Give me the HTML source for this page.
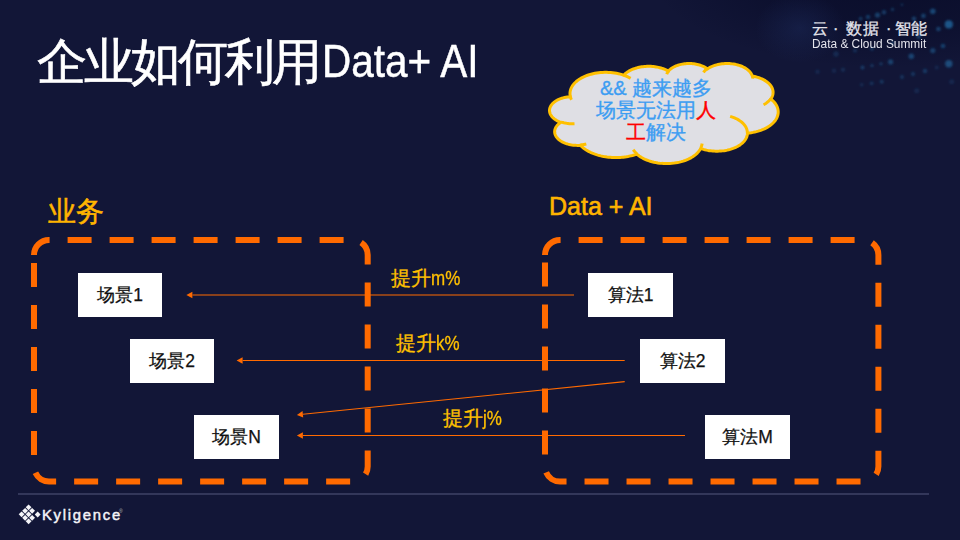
<!DOCTYPE html>
<html><head><meta charset="utf-8"><style>
html,body{margin:0;padding:0;}
body{width:960px;height:540px;overflow:hidden;background:#121637;position:relative;font-family:"Liberation Sans",sans-serif;}
.abs{position:absolute;white-space:nowrap;}
svg{position:absolute;left:0;top:0;}
.box{position:absolute;background:#fff;color:#111;font-size:17.5px;text-align:center;-webkit-text-stroke:0.25px #111;}
.title{left:38px;top:28px;font-size:48px;color:#fff;line-height:64px;}
.gold{color:#ffc000;-webkit-text-stroke:0.3px #ffc000;}
.lg{top:18px;font-size:16px;line-height:22px;color:#e4e4ec;-webkit-text-stroke:0.3px #e4e4ec;}
.cjk{-webkit-text-stroke:0.6px #fff;}
</style></head><body>
<svg width="960" height="540" viewBox="0 0 960 540">
  <defs>
    <radialGradient id="dk" cx="0.62" cy="0.2" r="0.6">
      <stop offset="0" stop-color="#070a26" stop-opacity="0.75"/>
      <stop offset="0.6" stop-color="#070a26" stop-opacity="0.45"/>
      <stop offset="1" stop-color="#070a26" stop-opacity="0"/>
    </radialGradient>
    <radialGradient id="gl" cx="0.5" cy="0.5" r="0.5">
      <stop offset="0" stop-color="#22346a" stop-opacity="0.35"/>
      <stop offset="1" stop-color="#22346a" stop-opacity="0"/>
    </radialGradient>
    <filter id="blur1" x="-50%" y="-50%" width="200%" height="200%"><feGaussianBlur stdDeviation="1.2"/></filter>
  </defs>
  <rect x="640" y="-60" width="400" height="160" fill="url(#dk)"/>
  <ellipse cx="800" cy="28" rx="45" ry="35" fill="url(#gl)"/>
  <g fill="#1f5d92" filter="url(#blur1)">
    <circle cx="817.5" cy="71.7" r="2.2" opacity="0.25"/>
    <circle cx="834" cy="70.8" r="2.2" opacity="0.25"/>
    <circle cx="843" cy="69.7" r="2" opacity="0.35"/>
    <circle cx="861.7" cy="84.7" r="1.8" opacity="0.3"/>
    <circle cx="871.7" cy="83.3" r="1.9" opacity="0.4"/>
    <circle cx="881.7" cy="81.7" r="2" opacity="0.45"/>
    <circle cx="916.7" cy="90.8" r="2.5" opacity="0.25"/>
    <circle cx="951.7" cy="81.7" r="2.5" opacity="0.25"/>
    <circle cx="936.7" cy="67.5" r="2" opacity="0.25"/>
    <circle cx="948.8" cy="24.4" r="4.1" opacity="0.9"/>
    <circle cx="932.8" cy="11.3" r="2.8" opacity="0.7"/>
    <circle cx="923.4" cy="15.9" r="2.3" opacity="0.6"/>
    <circle cx="938.4" cy="29" r="2.3" opacity="0.6"/>
    <circle cx="943" cy="46" r="2.3" opacity="0.6"/>
    <circle cx="948.8" cy="63.8" r="3.7" opacity="0.75"/>
    <circle cx="932.8" cy="50.6" r="2.6" opacity="0.6"/>
    <circle cx="911.3" cy="56.3" r="2.8" opacity="0.65"/>
    <circle cx="890.6" cy="61.9" r="2.6" opacity="0.6"/>
    <circle cx="881" cy="63.8" r="1.6" opacity="0.5"/>
    <circle cx="872" cy="65.6" r="1.6" opacity="0.5"/>
    <circle cx="862.5" cy="67.5" r="1.9" opacity="0.55"/>
    <circle cx="877.5" cy="15" r="2.6" opacity="0.6"/>
    <circle cx="884" cy="12.2" r="2.2" opacity="0.55"/>
    <circle cx="892.5" cy="9.4" r="1.6" opacity="0.5"/>
    <circle cx="868" cy="16.9" r="2.2" opacity="0.55"/>
    <circle cx="860.6" cy="18.75" r="1.9" opacity="0.5"/>
    <circle cx="914" cy="18.75" r="2.2" opacity="0.6"/>
    <circle cx="902" cy="4.7" r="1.2" opacity="0.45"/>
    <circle cx="918.75" cy="36.6" r="2.3" opacity="0.6"/>
    <circle cx="925" cy="71" r="2.2" opacity="0.5"/>
    <circle cx="913" cy="74" r="1.9" opacity="0.5"/>
    <circle cx="902" cy="77" r="1.9" opacity="0.45"/>
    <circle cx="836" cy="54" r="2.8" opacity="0.3"/>
    <circle cx="855" cy="50.6" r="1.9" opacity="0.4"/>
    <circle cx="872" cy="48.75" r="1.9" opacity="0.45"/>
    <circle cx="892.5" cy="43" r="1.9" opacity="0.5"/>
  </g>
  <rect x="18" y="493" width="911" height="2" fill="#33375a"/>
  <line x1="574" y1="295.0" x2="192.40" y2="295.00" stroke="#ff6a00" stroke-width="1.1"/><path d="M186.40 295.00 L192.40 291.80 L192.40 298.20 Z" fill="#ff6a00"/><line x1="624.7" y1="360.5" x2="242.60" y2="360.50" stroke="#ff6a00" stroke-width="1.1"/><path d="M236.60 360.50 L242.60 357.30 L242.60 363.70 Z" fill="#ff6a00"/><line x1="624.7" y1="381.6" x2="302.87" y2="414.29" stroke="#ff6a00" stroke-width="1.1"/><path d="M296.90 414.90 L302.55 411.11 L303.19 417.48 Z" fill="#ff6a00"/><line x1="685" y1="435.5" x2="302.90" y2="435.50" stroke="#ff6a00" stroke-width="1.1"/><path d="M296.90 435.50 L302.90 432.30 L302.90 438.70 Z" fill="#ff6a00"/>
  <path d="M34 255 A15 15 0 0 1 49 240 L352.7 240 A15 15 0 0 1 367.7 255 L367.7 466.5 A15 15 0 0 1 352.7 481.5 L49 481.5 A15 15 0 0 1 34 466.5 Z" fill="none" stroke="#ff6a00" stroke-width="6" stroke-dasharray="24 18"/>
  <path d="M545 255 A15 15 0 0 1 560 240 L863.4 240 A15 15 0 0 1 878.4 255 L878.4 466.5 A15 15 0 0 1 863.4 481.5 L560 481.5 A15 15 0 0 1 545 466.5 Z" fill="none" stroke="#ff6a00" stroke-width="6" stroke-dasharray="24 18"/>
  <path d="M570.32 96.46 L570.11 95.28 L570.00 94.09 L570.01 92.91 L570.13 91.72 L570.36 90.54 L570.71 89.37 L571.16 88.21 L571.72 87.07 L572.38 85.95 L573.15 84.85 L574.02 83.78 L574.99 82.74 L576.06 81.73 L577.22 80.77 L578.47 79.84 L579.80 78.95 L581.21 78.11 L582.70 77.32 L584.26 76.58 L585.89 75.90 L587.58 75.26 L589.33 74.69 L591.13 74.18 L592.97 73.72 L594.86 73.33 L596.77 73.00 L598.72 72.73 L600.69 72.53 L602.67 72.40 L604.66 72.33 L606.66 72.33 L608.65 72.40 L610.63 72.53 L612.60 72.72 L614.55 72.99 L616.47 73.31 L618.35 73.70 L620.20 74.16 L622.00 74.67 L623.75 75.24 L624.39 74.56 L625.08 73.90 L625.83 73.25 L626.62 72.63 L627.46 72.03 L628.35 71.46 L629.28 70.91 L630.26 70.38 L631.27 69.89 L632.32 69.42 L633.41 68.98 L634.53 68.57 L635.68 68.20 L636.85 67.85 L638.06 67.54 L639.28 67.27 L640.53 67.02 L641.79 66.82 L643.07 66.64 L644.36 66.51 L645.66 66.41 L646.97 66.34 L648.28 66.31 L649.59 66.32 L650.90 66.37 L652.20 66.45 L653.50 66.56 L654.79 66.71 L656.06 66.90 L657.31 67.13 L658.55 67.38 L659.77 67.68 L660.96 68.00 L662.13 68.36 L663.26 68.75 L664.37 69.17 L665.44 69.62 L666.47 70.10 L667.47 70.61 L668.43 71.14 L668.97 70.53 L669.57 69.93 L670.22 69.35 L670.92 68.79 L671.67 68.25 L672.46 67.74 L673.29 67.25 L674.16 66.79 L675.08 66.35 L676.02 65.94 L677.00 65.56 L678.02 65.21 L679.06 64.89 L680.12 64.60 L681.21 64.35 L682.32 64.13 L683.45 63.94 L684.59 63.79 L685.74 63.67 L686.90 63.59 L688.07 63.54 L689.24 63.53 L690.41 63.55 L691.57 63.61 L692.73 63.70 L693.88 63.83 L695.02 63.99 L696.14 64.19 L697.24 64.42 L698.33 64.68 L699.39 64.98 L700.42 65.30 L701.42 65.66 L702.40 66.05 L703.33 66.47 L704.23 66.91 L705.10 67.38 L705.92 67.88 L706.70 68.40 L707.43 68.94 L708.40 68.30 L709.43 67.69 L710.51 67.12 L711.65 66.58 L712.83 66.09 L714.07 65.63 L715.34 65.22 L716.65 64.85 L717.99 64.52 L719.36 64.24 L720.76 64.01 L722.18 63.82 L723.61 63.68 L725.05 63.59 L726.50 63.55 L727.95 63.56 L729.40 63.61 L730.84 63.72 L732.27 63.87 L733.68 64.07 L735.07 64.32 L736.43 64.61 L737.77 64.95 L739.07 65.33 L740.33 65.76 L741.55 66.23 L742.72 66.73 L743.84 67.28 L744.91 67.86 L745.92 68.48 L746.87 69.13 L747.76 69.82 L748.58 70.53 L749.34 71.26 L750.02 72.03 L750.63 72.81 L751.16 73.61 L751.61 74.43 L751.99 75.26 L752.29 76.11 L753.45 76.31 L754.59 76.54 L755.71 76.81 L756.81 77.10 L757.89 77.42 L758.95 77.76 L759.98 78.13 L760.98 78.53 L761.96 78.96 L762.90 79.40 L763.81 79.87 L764.69 80.37 L765.53 80.89 L766.33 81.42 L767.09 81.98 L767.81 82.56 L768.49 83.15 L769.13 83.76 L769.72 84.39 L770.27 85.03 L770.77 85.68 L771.23 86.35 L771.63 87.03 L771.99 87.72 L772.29 88.41 L772.55 89.12 L772.76 89.82 L772.91 90.54 L773.02 91.26 L773.07 91.97 L773.07 92.69 L773.02 93.41 L772.92 94.13 L772.77 94.84 L772.56 95.55 L772.31 96.26 L772.00 96.95 L771.65 97.64 L771.25 98.32 L770.80 98.99 L771.89 99.89 L772.91 100.82 L773.85 101.78 L774.69 102.77 L775.46 103.78 L776.13 104.82 L776.71 105.88 L777.20 106.95 L777.59 108.04 L777.89 109.13 L778.09 110.24 L778.19 111.35 L778.20 112.46 L778.11 113.57 L777.92 114.68 L777.64 115.78 L777.26 116.87 L776.79 117.94 L776.22 119.00 L775.56 120.04 L774.81 121.06 L773.97 122.05 L773.05 123.02 L772.05 123.95 L770.96 124.86 L769.80 125.73 L768.56 126.56 L767.25 127.35 L765.87 128.10 L764.43 128.81 L762.93 129.47 L761.38 130.08 L759.77 130.65 L758.12 131.16 L756.42 131.62 L754.68 132.03 L752.92 132.39 L751.12 132.69 L749.30 132.93 L747.46 133.11 L747.40 134.08 L747.26 135.04 L747.03 136.00 L746.72 136.94 L746.33 137.88 L745.85 138.80 L745.29 139.71 L744.65 140.60 L743.93 141.46 L743.13 142.30 L742.27 143.12 L741.33 143.91 L740.32 144.66 L739.25 145.39 L738.11 146.07 L736.91 146.73 L735.66 147.34 L734.35 147.91 L733.00 148.44 L731.60 148.93 L730.16 149.37 L728.68 149.77 L727.17 150.12 L725.63 150.42 L724.06 150.67 L722.48 150.87 L720.87 151.02 L719.26 151.12 L717.64 151.17 L716.02 151.17 L714.40 151.12 L712.79 151.02 L711.19 150.86 L709.60 150.66 L708.04 150.40 L706.50 150.10 L704.99 149.75 L703.51 149.35 L702.07 148.91 L700.68 148.42 L700.04 149.56 L699.29 150.68 L698.44 151.77 L697.49 152.83 L696.44 153.86 L695.30 154.85 L694.06 155.80 L692.74 156.71 L691.33 157.57 L689.84 158.38 L688.28 159.14 L686.65 159.85 L684.95 160.50 L683.20 161.09 L681.39 161.62 L679.53 162.10 L677.64 162.50 L675.71 162.85 L673.75 163.12 L671.76 163.33 L669.76 163.48 L667.75 163.55 L665.73 163.56 L663.72 163.50 L661.72 163.37 L659.73 163.18 L657.76 162.92 L655.82 162.59 L653.92 162.19 L652.05 161.74 L650.23 161.22 L648.47 160.64 L646.76 160.00 L645.11 159.31 L643.53 158.56 L642.03 157.76 L640.60 156.91 L639.26 156.01 L638.00 155.07 L636.83 154.09 L635.42 154.57 L633.99 155.02 L632.52 155.44 L631.02 155.82 L629.50 156.16 L627.96 156.47 L626.40 156.74 L624.83 156.97 L623.24 157.17 L621.63 157.33 L620.02 157.45 L618.40 157.53 L616.78 157.57 L615.16 157.57 L613.53 157.54 L611.92 157.47 L610.30 157.35 L608.70 157.20 L607.10 157.02 L605.52 156.79 L603.96 156.53 L602.42 156.23 L600.89 155.89 L599.39 155.52 L597.92 155.11 L596.47 154.67 L595.06 154.19 L593.68 153.68 L592.33 153.14 L591.02 152.56 L589.75 151.96 L588.52 151.32 L587.34 150.66 L586.19 149.97 L585.10 149.25 L584.06 148.51 L583.06 147.74 L582.12 146.95 L581.23 146.14 L580.39 145.31 L578.99 145.38 L577.58 145.40 L576.18 145.37 L574.78 145.29 L573.39 145.16 L572.02 144.98 L570.67 144.75 L569.34 144.47 L568.05 144.14 L566.79 143.77 L565.57 143.35 L564.40 142.89 L563.28 142.39 L562.21 141.84 L561.20 141.26 L560.25 140.65 L559.36 140.00 L558.54 139.32 L557.80 138.61 L557.13 137.88 L556.53 137.12 L556.02 136.34 L555.58 135.55 L555.23 134.74 L554.96 133.92 L554.77 133.09 L554.67 132.26 L554.66 131.42 L554.73 130.59 L554.89 129.76 L555.13 128.93 L555.45 128.12 L555.86 127.32 L556.35 126.54 L556.92 125.77 L557.57 125.03 L558.29 124.32 L559.08 123.63 L559.95 122.97 L560.87 122.34 L559.65 121.88 L558.49 121.38 L557.37 120.83 L556.32 120.24 L555.32 119.61 L554.40 118.95 L553.55 118.26 L552.77 117.53 L552.07 116.78 L551.45 116.00 L550.91 115.20 L550.46 114.38 L550.09 113.54 L549.81 112.70 L549.63 111.84 L549.53 110.98 L549.52 110.12 L549.60 109.25 L549.77 108.40 L550.03 107.55 L550.38 106.71 L550.82 105.89 L551.34 105.08 L551.94 104.30 L552.63 103.54 L553.39 102.81 L554.23 102.11 L555.14 101.44 L556.12 100.81 L557.16 100.21 L558.27 99.65 L559.43 99.14 L560.64 98.67 L561.89 98.25 L563.19 97.88 L564.53 97.55 L565.89 97.28 L567.29 97.06 L568.70 96.89 L570.13 96.78 Z" fill="#dfdfe4" stroke="#ffc000" stroke-width="3" stroke-linejoin="round"/>
  <path d="M574.51 123.79 L573.82 123.82 L573.12 123.83 L572.42 123.84 L571.72 123.82 L571.03 123.80 L570.33 123.76 L569.64 123.71 L568.95 123.65 L568.26 123.57 L567.58 123.49 L566.90 123.39 L566.23 123.27 L565.56 123.15 L564.90 123.01 L564.25 122.87 L563.61 122.71 L562.97 122.53 L562.34 122.35 L561.73 122.16 L561.12 121.95 M586.33 143.98 L586.05 144.05 L585.76 144.11 L585.48 144.18 L585.19 144.23 L584.90 144.29 L584.61 144.35 L584.32 144.40 L584.03 144.45 L583.74 144.50 L583.45 144.54 L583.15 144.58 L582.86 144.62 L582.56 144.66 L582.27 144.70 L581.97 144.73 L581.67 144.76 L581.37 144.79 L581.07 144.82 L580.77 144.85 L580.47 144.87 M636.82 153.69 L636.61 153.50 L636.40 153.30 L636.20 153.11 L636.00 152.92 L635.80 152.72 L635.61 152.53 L635.42 152.33 L635.24 152.13 L635.05 151.93 L634.87 151.73 L634.70 151.53 L634.53 151.32 L634.36 151.12 L634.20 150.91 L634.04 150.71 L633.88 150.50 L633.73 150.29 L633.58 150.08 L633.43 149.87 L633.29 149.66 M702.11 143.64 L702.08 143.87 L702.04 144.09 L702.00 144.31 L701.95 144.54 L701.90 144.76 L701.85 144.99 L701.79 145.21 L701.73 145.43 L701.67 145.65 L701.60 145.87 L701.53 146.10 L701.45 146.32 L701.37 146.54 L701.29 146.76 L701.20 146.98 L701.11 147.19 L701.01 147.41 L700.91 147.63 L700.81 147.85 L700.70 148.06 M730.14 116.33 L731.67 116.81 L733.14 117.33 L734.57 117.91 L735.94 118.53 L737.25 119.19 L738.49 119.90 L739.67 120.65 L740.77 121.44 L741.80 122.26 L742.75 123.11 L743.61 124.00 L744.39 124.91 L745.08 125.85 L745.69 126.81 L746.20 127.79 L746.61 128.78 L746.94 129.79 L747.17 130.81 L747.30 131.83 L747.33 132.85 M770.69 98.74 L770.44 99.08 L770.18 99.42 L769.91 99.75 L769.62 100.08 L769.32 100.41 L769.02 100.73 L768.69 101.05 L768.36 101.36 L768.02 101.67 L767.66 101.98 L767.30 102.28 L766.92 102.57 L766.53 102.86 L766.13 103.15 L765.72 103.43 L765.30 103.70 L764.87 103.97 L764.43 104.23 L763.98 104.49 L763.52 104.74 M752.32 75.76 L752.36 75.90 L752.40 76.05 L752.44 76.20 L752.48 76.34 L752.51 76.49 L752.54 76.63 L752.57 76.78 L752.60 76.92 L752.62 77.07 L752.64 77.22 L752.66 77.36 L752.68 77.51 L752.69 77.66 L752.70 77.80 L752.71 77.95 L752.72 78.10 L752.72 78.24 L752.73 78.39 L752.73 78.54 L752.72 78.69 M703.44 72.35 L703.59 72.15 L703.74 71.95 L703.91 71.75 L704.07 71.55 L704.24 71.35 L704.42 71.16 L704.60 70.97 L704.79 70.78 L704.98 70.59 L705.17 70.40 L705.37 70.21 L705.57 70.03 L705.78 69.84 L705.99 69.66 L706.21 69.48 L706.43 69.31 L706.66 69.13 L706.89 68.96 L707.12 68.79 L707.36 68.62 M666.76 74.13 L666.82 73.96 L666.89 73.79 L666.96 73.63 L667.03 73.46 L667.11 73.30 L667.19 73.13 L667.27 72.97 L667.36 72.81 L667.45 72.64 L667.54 72.48 L667.64 72.32 L667.74 72.16 L667.84 72.00 L667.95 71.84 L668.06 71.69 L668.17 71.53 L668.29 71.37 L668.41 71.22 L668.53 71.06 L668.66 70.91 M623.72 75.22 L624.09 75.35 L624.46 75.48 L624.83 75.62 L625.19 75.76 L625.55 75.90 L625.91 76.05 L626.27 76.20 L626.62 76.35 L626.97 76.50 L627.31 76.65 L627.66 76.81 L628.00 76.97 L628.33 77.14 L628.67 77.30 L629.00 77.47 L629.32 77.64 L629.64 77.81 L629.96 77.98 L630.28 78.16 L630.59 78.34 M571.52 99.75 L571.44 99.59 L571.36 99.43 L571.28 99.26 L571.21 99.10 L571.14 98.94 L571.07 98.78 L571.00 98.61 L570.94 98.45 L570.87 98.29 L570.81 98.12 L570.75 97.96 L570.70 97.79 L570.64 97.63 L570.59 97.46 L570.54 97.30 L570.49 97.13 L570.44 96.96 L570.40 96.80 L570.36 96.63 L570.32 96.46" fill="none" stroke="#ffc000" stroke-width="3"/>
</svg>
<div class="abs cjk" style="left:37px;top:30px;font-size:50px;line-height:64px;letter-spacing:-3.1px;color:#fff">企业如何利用</div>
<div class="abs" style="left:322px;top:29px;font-size:46px;line-height:64px;color:#fff;transform:scaleX(0.88);transform-origin:0 0;-webkit-text-stroke:0.5px #fff">Data+ AI</div>
<div class="abs" style="left:48px;top:194px;font-size:27.5px;line-height:36px;color:#ffb400;-webkit-text-stroke:0.5px #ffb400">业务</div>
<div class="abs" style="left:549px;top:190px;font-size:25px;line-height:32px;color:#ffb400;-webkit-text-stroke:0.6px #ffb400">Data + AI</div>
<div class="abs gold" style="left:391px;top:265px;font-size:20px;line-height:26px">提升<span style="display:inline-block;transform:scaleX(0.85);transform-origin:0 50%">m%</span></div>
<div class="abs gold" style="left:396px;top:330px;font-size:20px;line-height:26px">提升<span style="display:inline-block;transform:scaleX(0.85);transform-origin:0 50%">k%</span></div>
<div class="abs gold" style="left:443px;top:405px;font-size:20px;line-height:26px">提升<span style="display:inline-block;transform:scaleX(0.85);transform-origin:0 50%">j%</span></div>
<div class="abs" style="left:596px;top:77px;width:120px;text-align:center;font-size:20px;line-height:22px;color:#3d9df2;-webkit-text-stroke:0.35px currentColor">&amp;&amp; 越来越多<br>场景无法用<span style="color:#f00;-webkit-text-stroke:0.35px #f00">人</span><br><span style="color:#f00;-webkit-text-stroke:0.35px #f00">工</span>解决</div>
<div class="abs lg" style="left:812px">云</div><div class="abs lg" style="left:833px">·</div><div class="abs lg" style="left:846px">数</div><div class="abs lg" style="left:863px">据</div><div class="abs lg" style="left:886px">·</div><div class="abs lg" style="left:895px">智</div><div class="abs lg" style="left:911px">能</div>
<div class="abs" style="left:812px;top:37px;font-size:12.5px;line-height:14px;color:#e4e4ec;transform:scaleX(0.95);transform-origin:0 0">Data &amp; Cloud Summit</div>
<div class="box" style="left:78px;top:273px;width:84px;height:44px;line-height:44px">场景1</div><div class="box" style="left:130px;top:339px;width:84px;height:44px;line-height:44px">场景2</div><div class="box" style="left:194px;top:415px;width:85px;height:44px;line-height:44px">场景N</div><div class="box" style="left:588px;top:273px;width:85px;height:44px;line-height:44px">算法1</div><div class="box" style="left:640px;top:339px;width:85px;height:44px;line-height:44px">算法2</div><div class="box" style="left:705px;top:415px;width:85px;height:44px;line-height:44px">算法M</div>
<svg width="960" height="540" style="position:absolute;left:0;top:0"><g fill="#f4f4f8"><path d="M21.60 511.40 L24.50 514.30 L21.60 517.20 L18.70 514.30 Z"/><path d="M25.10 514.90 L28.00 517.80 L25.10 520.70 L22.20 517.80 Z"/><path d="M28.60 518.40 L31.50 521.30 L28.60 524.20 L25.70 521.30 Z"/><path d="M25.10 507.90 L28.00 510.80 L25.10 513.70 L22.20 510.80 Z"/><path d="M28.60 511.40 L31.50 514.30 L28.60 517.20 L25.70 514.30 Z"/><path d="M32.10 514.90 L35.00 517.80 L32.10 520.70 L29.20 517.80 Z"/><path d="M28.60 504.40 L31.50 507.30 L28.60 510.20 L25.70 507.30 Z"/><path d="M32.10 507.90 L35.00 510.80 L32.10 513.70 L29.20 510.80 Z"/><path d="M37.70 511.60 L40.60 514.50 L37.70 517.40 L34.80 514.50 Z"/></g></svg><div class="abs" style="left:42px;top:505px;font-size:14.8px;line-height:20px;color:#f4f4f8;letter-spacing:1.75px;-webkit-text-stroke:0.45px #f4f4f8">Kyligence</div><div class="abs" style="left:119px;top:508px;font-size:5px;line-height:6px;color:#bbb">®</div>
</body></html>
